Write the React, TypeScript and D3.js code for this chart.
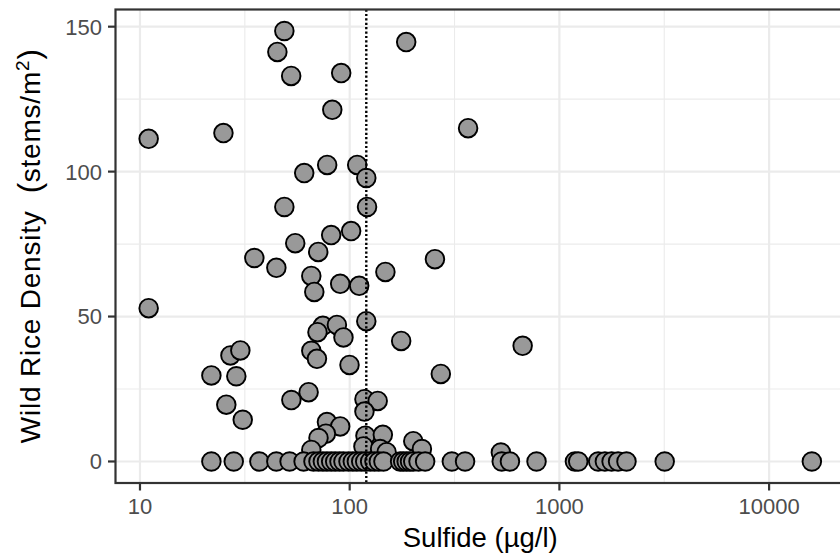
import React from 'react';
import * as d3 from 'd3';

// Sulfide (µg/l) vs wild rice stem density.
const sulfide = [
  11.0, 11.0, 25.0, 48.8, 45.2, 52.6, 91.1, 82.6, 186, 367, 108.6, 78.1, 60.7, 120, 48.8, 121,
  101.6, 81.6, 55.0, 70.8, 35.1, 44.7, 255, 65.6, 148, 90.1, 111, 67.8, 120, 74.5, 70.2, 86.9,
  93.4, 176, 27.0, 30.1, 65.6, 69.8, 99.8, 21.9, 28.8, 272, 668, 63.7, 52.7, 25.8, 30.9, 117.6,
  136, 117.6, 77.9, 90.1, 77.0, 71.0, 65.6, 118.9, 143.9, 116.3, 139.7, 150, 201, 221, 526,
  // zero-density sites
  21.9, 28.0, 37.1, 44.7, 51.7, 60.3, 67.2, 71.0, 74.5, 77.9, 81.6, 85.3, 89.4, 93.4, 98.7,
  103.5, 108.2, 113.5, 118.6, 125.2, 131.3, 137.7, 144.9, 174, 180, 187, 194, 201, 213, 229,
  307, 355, 531, 581, 778, 1186, 1230, 1531, 1648, 1774, 1905, 2089, 3178, 15990,
];
const density = [
  111.3, 52.9, 113.3, 148.5, 141.3, 133.0, 134.0, 121.3, 144.7, 115.0, 102.3, 102.3, 99.5, 97.8,
  87.8, 87.8, 79.5, 78.1, 75.3, 72.3, 70.2, 66.8, 69.8, 64.0, 65.4, 61.3, 60.6, 58.5, 48.4, 46.8,
  44.6, 47.1, 42.8, 41.6, 36.6, 38.3, 38.2, 35.4, 33.3, 29.7, 29.4, 30.2, 39.9, 23.9, 21.2, 19.6,
  14.4, 21.5, 20.9, 17.2, 13.6, 12.1, 9.6, 8.1, 4.0, 8.9, 9.2, 5.2, 4.3, 3.2, 7.0, 4.3, 3.1,
  0, 0, 0, 0, 0, 0, 0, 0, 0, 0, 0, 0, 0, 0, 0,
  0, 0, 0, 0, 0, 0, 0, 0, 0, 0, 0, 0, 0, 0, 0,
  0, 0, 0, 0, 0, 0, 0, 0, 0, 0, 0, 0, 0, 0,
];
const xBreaks = [10, 100, 1000, 10000];
const xMinor = [10 ** 1.5, 10 ** 2.5, 10 ** 3.5];
const yBreaks = [0, 50, 100, 150];
const yMinor = [25, 75, 125];
const threshold = 120;

const W = 840;
const H = 558;
const LEFT = 115.5;
const RIGHT = 845; // panel runs past the picture edge
const TOP = 9.5;
const BOTTOM = 483;
const FONT = '"Liberation Sans", Arial, Helvetica, sans-serif';

export default function App() {
  const points = sulfide.map((s, i) => ({ s, d: density[i] }));

  const [lx0, lx1] = d3.extent(sulfide.map(Math.log10)) as [number, number];
  const xPad = (lx1 - lx0) * 0.05;
  const x = d3
    .scaleLog()
    .domain([10 ** (lx0 - xPad), 10 ** (lx1 + xPad)])
    .range([LEFT, RIGHT]);

  const [y0, y1] = d3.extent(density) as [number, number];
  const yPad = (y1 - y0) * 0.05;
  const y = d3
    .scaleLinear()
    .domain([y0 - yPad, y1 + yPad])
    .range([BOTTOM, TOP]);

  return (
    <svg
      width={W}
      height={H}
      style={{ position: 'absolute', left: 0, top: 0, background: 'white' }}
      fontFamily={FONT}
    >
      <rect width={W} height={H} fill="white" />

      {/* grid */}
      {xMinor.map((v) => (
        <line key={`xm${v}`} x1={x(v)} x2={x(v)} y1={TOP} y2={BOTTOM} stroke="#EBEBEB" strokeWidth={1.1} />
      ))}
      {yMinor.map((v) => (
        <line key={`ym${v}`} x1={LEFT} x2={RIGHT} y1={y(v)} y2={y(v)} stroke="#EBEBEB" strokeWidth={1.1} />
      ))}
      {xBreaks.map((v) => (
        <line key={`xg${v}`} x1={x(v)} x2={x(v)} y1={TOP} y2={BOTTOM} stroke="#EBEBEB" strokeWidth={2.2} />
      ))}
      {yBreaks.map((v) => (
        <line key={`yg${v}`} x1={LEFT} x2={RIGHT} y1={y(v)} y2={y(v)} stroke="#EBEBEB" strokeWidth={2.2} />
      ))}

      {/* points */}
      {points.map((p, i) => (
        <circle
          key={i}
          cx={x(p.s)}
          cy={y(p.d)}
          r={9.3}
          fill="#999999"
          stroke="#000"
          strokeWidth={1.9}
        />
      ))}

      {/* threshold line */}
      <line
        x1={x(threshold)}
        x2={x(threshold)}
        y1={TOP}
        y2={BOTTOM}
        stroke="#000"
        strokeWidth={2.4}
        strokeDasharray="2.2,2.2"
      />

      {/* panel border */}
      <rect
        x={LEFT}
        y={TOP}
        width={RIGHT - LEFT}
        height={BOTTOM - TOP}
        fill="none"
        stroke="#333333"
        strokeWidth={2.2}
      />

      {/* x axis */}
      {xBreaks.map((v) => (
        <g key={`xt${v}`}>
          <line x1={x(v)} x2={x(v)} y1={BOTTOM} y2={BOTTOM + 7.5} stroke="#333333" strokeWidth={2.2} />
          <text x={x(v)} y={513.5} textAnchor="middle" fontSize={22} fill="#4D4D4D">
            {v}
          </text>
        </g>
      ))}

      {/* y axis */}
      {yBreaks.map((v) => (
        <g key={`yt${v}`}>
          <line x1={LEFT - 7.5} x2={LEFT} y1={y(v)} y2={y(v)} stroke="#333333" strokeWidth={2.2} />
          <text x={102} y={y(v)} dy="0.36em" textAnchor="end" fontSize={22} fill="#4D4D4D">
            {v}
          </text>
        </g>
      ))}

      {/* titles */}
      <text x={(LEFT + RIGHT) / 2} y={546.5} textAnchor="middle" fontSize={27.5} fill="#000">
        Sulfide (µg/l)
      </text>
      <text
        transform={`translate(40,${(TOP + BOTTOM) / 2}) rotate(-90)`}
        textAnchor="middle"
        fontSize={28}
        fill="#000"
        textLength={394}
        lengthAdjust="spacing"
        style={{ whiteSpace: 'pre' }}
      >
        {'Wild Rice Density  '}
        <tspan fontSize={31}>(</tspan>
        {'stems/m'}
        <tspan fontSize={19} dy={-11}>
          2
        </tspan>
        <tspan dy={11} fontSize={31}>
          )
        </tspan>
      </text>
    </svg>
  );
}
